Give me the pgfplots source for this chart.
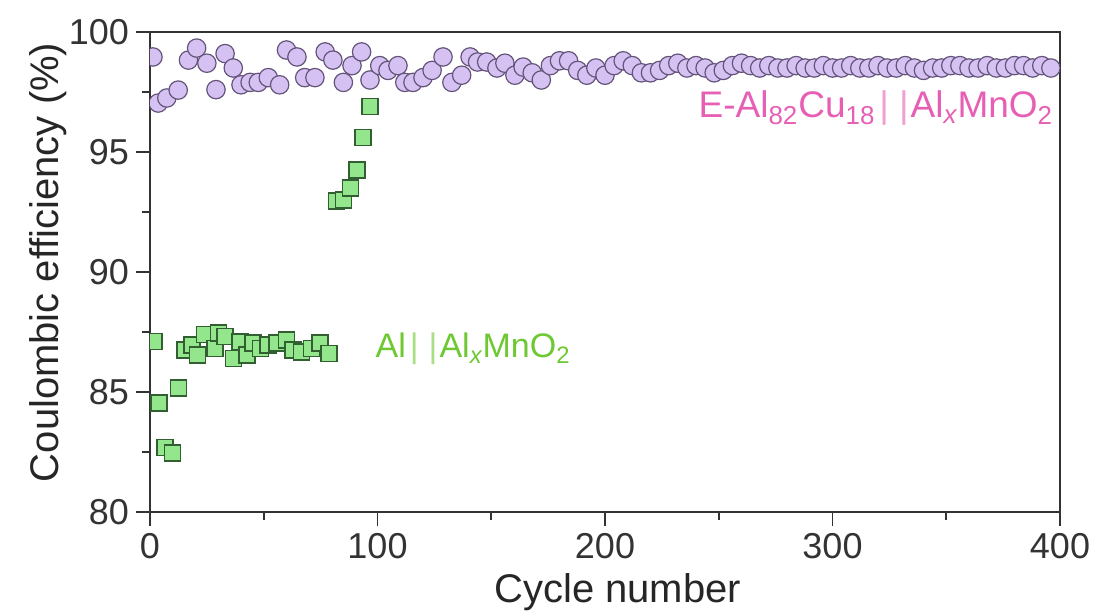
\documentclass[border=0pt]{standalone}
\usepackage{pgfplots}
\pgfplotsset{compat=1.18}
\usepackage{fontspec}
\setmainfont{Liberation Sans}
\definecolor{cfill}{RGB}{214,194,242}
\definecolor{cedge}{RGB}{100,84,122}
\definecolor{sfill}{RGB}{148,230,140}
\definecolor{sedge}{RGB}{50,95,50}
\definecolor{pinktxt}{RGB}{230,95,180}
\definecolor{greentxt}{RGB}{110,200,50}
\begin{document}
\begin{tikzpicture}
\useasboundingbox (-75pt,-50pt) rectangle (473pt,256pt);
\begin{axis}[
  at={(0,0)}, anchor=south west,
  scale only axis, width=455pt, height=240pt,
  xmin=0, xmax=400, ymin=80, ymax=100,
  xtick={0,100,...,400}, minor x tick num=1,
  ytick={80,85,...,100}, minor y tick num=1,
  tick align=outside, xtick pos=bottom, ytick pos=left,
  major tick length=7pt, minor tick length=4pt,
  axis line style={line width=0.9pt, black!80},
  every tick/.style={line width=0.9pt, black!80},
  /pgf/number format/assume math mode=true,
  tick label style={font=\fontsize{18}{20}\selectfont, text=black!80},
  label style={font=\fontsize{20}{24}\selectfont, text=black!85},
  xlabel={Cycle number},
  ylabel={Coulombic efficiency (\%)},
  xlabel style={at={(axis description cs:0.514,0)}, anchor=base, yshift=-45pt},
  ylabel style={at={(axis description cs:0,0.52)}, anchor=center, rotate=0, yshift=51pt},
  clip marker paths=true,
]
\addplot[only marks, mark=*, mark size=4.6pt, mark options={fill=cfill, draw=cedge, line width=0.6pt}] coordinates {
(1.3,98.96) (3.6,97.04) (7.4,97.25) (12.4,97.58) (16.9,98.83) (20.5,99.33) (25,98.7) (29,97.6) (33,99.1) (36.6,98.5)
(40,97.8) (44,97.9) (47.6,97.9) (52,98.1) (57,97.8) (60,99.25) (64.6,98.96) (68,98.1) (72.5,98.1) (77,99.17)
(80.4,98.83) (85,97.9) (88.8,98.6) (93,99.17) (96.7,98.0) (101,98.6) (104.6,98.4) (109,98.6) (112,97.9) (115.6,97.9)
(120,98.1) (124,98.4) (128.8,98.96) (132.7,97.9) (137,98.2) (140.7,98.96) (144,98.75) (148,98.75) (152.5,98.5) (156,98.7)
(160.4,98.2) (164,98.54) (168,98.3) (172,98.0) (176,98.6) (180,98.8) (184,98.8) (188,98.4) (192,98.2) (196,98.5)
(200,98.2) (204,98.6) (208,98.8) (212,98.6) (216,98.3) (220,98.3) (224,98.4) (228,98.6) (232,98.7) (236,98.5)
(240,98.6) (244,98.5) (248,98.3) (252,98.4) (256,98.6) (260,98.7) (264,98.6) (268,98.5) (272,98.6) (276,98.5)
(280,98.5) (284,98.6) (288,98.5) (292,98.5) (296,98.6) (300,98.5) (304,98.5) (308,98.6) (312,98.5) (316,98.5)
(320,98.6) (324,98.5) (328,98.5) (332,98.6) (336,98.5) (340,98.4) (344,98.5) (348,98.5) (352,98.6) (356,98.6)
(360,98.5) (364,98.5) (368,98.6) (372,98.5) (376,98.5) (380,98.6) (384,98.6) (388,98.5) (392,98.6) (396,98.5)
};
\addplot[only marks, mark=square*, mark size=4pt, mark options={fill=sfill, draw=sedge, line width=0.6pt}] coordinates {
(1.8,87.1) (4,84.54) (6.6,82.7) (10,82.46) (12.7,85.17) (15.4,86.75) (18.5,86.96) (21,86.54) (24,87.4) (28.6,86.8)
(30,87.46) (33,87.3) (36.6,86.4) (39.6,87.08) (42.6,86.54) (45.3,87.04) (48.4,86.8) (51.9,86.96) (55.8,87.04) (60,87.17)
(62.9,86.75) (66.6,86.67) (71,86.8) (74.7,87.04) (78.7,86.6) (82,92.96) (85,93.0) (88,93.5) (91,94.25) (93.6,95.6) (96.7,96.9)
};
\node[anchor=base west, inner sep=0pt, text=pinktxt, font=\fontsize{18.5}{20}\selectfont] at (axis cs:241,96.42)
  {E-Al\textsubscript{82}Cu\textsubscript{18}\kern2pt{\color{pinktxt!60}|}\kern5pt{\color{pinktxt!60}|}\kern1pt Al\textsubscript{\itshape x}MnO\textsubscript{2}};
\node[anchor=base west, inner sep=0pt, text=greentxt, font=\fontsize{17}{20}\selectfont] at (axis cs:99,86.42)
  {Al\kern2pt{\color{greentxt!60}|}\kern5pt{\color{greentxt!60}|}\kern1pt Al\textsubscript{\itshape x}MnO\textsubscript{2}};
\end{axis}
\end{tikzpicture}
\end{document}
